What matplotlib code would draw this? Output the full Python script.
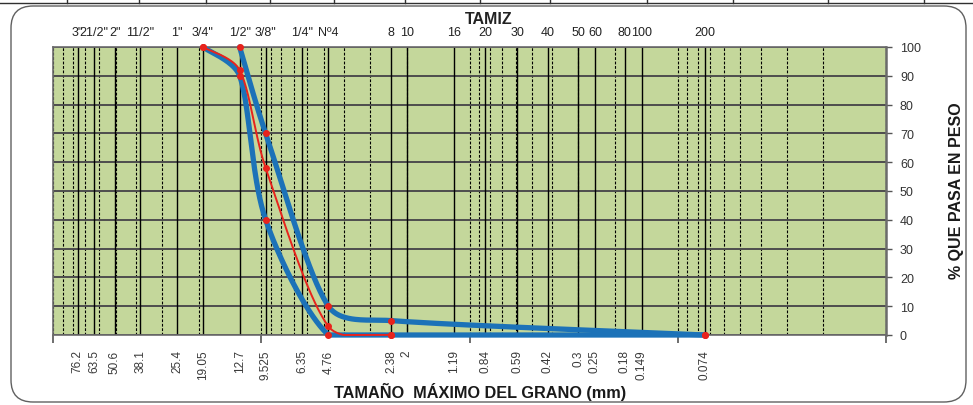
import numpy as np
import matplotlib
matplotlib.use("Agg")
import matplotlib.pyplot as plt
from matplotlib.patches import FancyBboxPatch
from matplotlib.lines import Line2D
from matplotlib.transforms import IdentityTransform, blended_transform_factory
from matplotlib.ticker import FixedLocator, NullFormatter

plt.rcParams['font.family'] = ['Liberation Sans', 'DejaVu Sans']

# Sieve series (ASTM designations) and their openings in mm
sieve_names = ['3"', '21/2"', '2"', '11/2"', '1"', '3/4"', '1/2"', '3/8"', '1/4"', 'Nº4',
               '8', '10', '16', '20', '30', '40', '50', '60', '80', '100', '200']
sieve_mm = [76.2, 63.5, 50.6, 38.1, 25.4, 19.05, 12.7, 9.525, 6.35, 4.76,
            2.38, 2.0, 1.19, 0.84, 0.59, 0.42, 0.3, 0.25, 0.18, 0.149, 0.074]
sieve_mm_labels = ['76.2', '63.5', '50.6', '38.1', '25.4', '19.05', '12.7', '9.525', '6.35', '4.76',
                   '2.38', '2', '1.19', '0.84', '0.59', '0.42', '0.3', '0.25', '0.18', '0.149', '0.074']

# Gradation band limits and the tested sample (% passing)
lower_mm = [19.05, 12.7, 9.525, 4.76, 2.38, 0.074]
lower_pct = [100, 90, 40, 0, 0, 0]
upper_mm = [12.7, 9.525, 4.76, 2.38, 0.074]
upper_pct = [100, 70, 10, 5, 0]
sample_mm = [19.05, 12.7, 9.525, 4.76, 2.38]
sample_pct = [100, 92, 58, 3, 0]

y_ticks = list(range(0, 101, 10))

W, H = 973, 406
fig = plt.figure(figsize=(W / 100, H / 100), dpi=100)
fig.patch.set_facecolor('white')

# rounded chart frame and the table rule above it
frame = FancyBboxPatch((11, 3), 955, 396, boxstyle="round,pad=0,rounding_size=22",
                       transform=IdentityTransform(), facecolor='white',
                       edgecolor='#606060', linewidth=1.0, zorder=0)
fig.add_artist(frame)
fig.add_artist(Line2D([0, W], [H - 4, H - 4], transform=IdentityTransform(),
                      color='#303030', lw=1.0))
for xc in [67, 139, 206, 270, 334, 405, 480, 550, 647, 733, 828, 924]:
    fig.add_artist(Line2D([xc, xc], [H - 4, H], transform=IdentityTransform(),
                          color='#303030', lw=1.0))

ax = fig.add_axes([53 / W, 70 / H, 833 / W, 288 / H])
ax.set_xscale('log')
ax.set_xlim(100, 0.01)
ax.set_ylim(0, 100)
ax.set_facecolor('#c4d79b')
ax.set_axisbelow(True)

# log grid (dashed) and horizontal grid
ax.xaxis.set_major_locator(FixedLocator([100, 10, 1, 0.1, 0.01]))
ax.xaxis.set_major_formatter(NullFormatter())
ax.xaxis.set_minor_formatter(NullFormatter())
ax.grid(which='both', axis='x', color='black', lw=0.8, ls=(0, (2.5, 1.5)))
ax.set_yticks(y_ticks)
ax.grid(which='major', axis='y', color='#4d4d4d', lw=1.4)
ax.tick_params(axis='x', which='minor', length=0)
ax.tick_params(axis='x', which='major', length=6, direction='out', color='#555555', width=1.2)

# sieve openings as solid verticals
ax.vlines(sieve_mm, 0, 100, colors='black', lw=1.0, zorder=1)

ax.yaxis.tick_right()
ax.tick_params(axis='y', length=4, direction='out', color='#555555', width=1.0,
               labelsize=9, labelcolor='#333333', pad=6)
for s in ax.spines.values():
    s.set_color('#6b6b6b')
    s.set_linewidth(1.2)
ax.spines['right'].set_linewidth(1.8)


def smooth_curve(xs, ys, steps=40):
    """Bezier smoothing in screen space (Catmull-Rom tangents, limited by chord length)."""
    P = ax.transData.transform(np.column_stack([xs, ys]))
    n = len(P)
    tang = np.zeros_like(P)
    for i in range(n):
        if i == 0:
            d = P[1] - P[0]
        elif i == n - 1:
            d = P[-1] - P[-2]
        else:
            d = P[i + 1] - P[i - 1]
        tang[i] = d / 6.0
    u = np.linspace(0, 1, steps)[:, None]
    parts = []
    for i in range(n - 1):
        seg = np.hypot(*(P[i + 1] - P[i]))
        t1, t2 = tang[i], tang[i + 1]
        l1, l2 = np.hypot(*t1), np.hypot(*t2)
        if l1 > seg / 3:
            t1 = t1 * (seg / 3) / l1
        if l2 > seg / 3:
            t2 = t2 * (seg / 3) / l2
        c1 = P[i] + t1
        c2 = P[i + 1] - t2
        B = ((1 - u) ** 3 * P[i] + 3 * (1 - u) ** 2 * u * c1
             + 3 * (1 - u) * u ** 2 * c2 + u ** 3 * P[i + 1])
        parts.append(B if i == 0 else B[1:])
    pts = ax.transData.inverted().transform(np.vstack(parts))
    pts[:, 1] = np.clip(pts[:, 1], 0, 100)
    return pts[:, 0], pts[:, 1]


blue = '#1c72b8'
red = '#e8231c'
for xs, ys in [(lower_mm, lower_pct), (upper_mm, upper_pct)]:
    sx, sy = smooth_curve(xs, ys)
    ax.plot(sx, sy, color=blue, lw=3.8, solid_capstyle='round', clip_on=False, zorder=3)
sx, sy = smooth_curve(sample_mm, sample_pct)
ax.plot(sx, sy, color=red, lw=1.4, clip_on=False, zorder=4)
for xs, ys in [(lower_mm, lower_pct), (upper_mm, upper_pct), (sample_mm, sample_pct)]:
    ax.plot(xs, ys, ls='none', marker='o', ms=4, color=red, clip_on=False, zorder=5)

# sieve names above, openings below
top_tr = blended_transform_factory(ax.transData, ax.transAxes)
for name, mm in zip(sieve_names, sieve_mm):
    ax.text(mm, 1.052, name, transform=top_tr, ha='center', va='center',
            fontsize=9, color='#222222')
for lab, mm in zip(sieve_mm_labels, sieve_mm):
    ax.text(mm, -0.05, lab, transform=top_tr, ha='center', va='top', rotation=90,
            fontsize=8.5, color='#3a3a3a')

fig.text(489 / W, 1 - 20 / H, 'TAMIZ', ha='center', va='center', fontsize=11.5,
         fontweight='bold', color='#222222', family=['Liberation Sans Narrow', 'Liberation Sans'])
fig.text(480 / W, 1 - 392 / H, 'TAMAÑO  MÁXIMO DEL GRANO (mm)', ha='center', va='center',
         fontsize=11.7, fontweight='bold', color='#1a1a1a')
fig.text(956 / W, 1 - 191 / H, '% QUE PASA EN PESO', ha='center', va='center',
         rotation=90, fontsize=11.5, fontweight='bold', color='#1a1a1a')

fig.savefig('out.png', dpi=100, facecolor='white')
